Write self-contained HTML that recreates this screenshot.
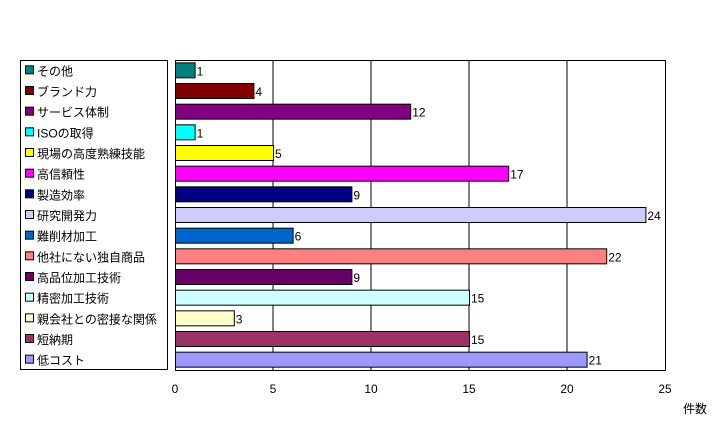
<!DOCTYPE html>
<html><head><meta charset="utf-8"><style>
body{margin:0;background:#fff;width:719px;height:432px;overflow:hidden;font-family:"Liberation Sans","Noto Sans CJK JP",sans-serif}
</style></head><body>
<svg id="chart" width="719" height="432" font-family="Liberation Sans, Noto Sans CJK JP, sans-serif" font-size="12">
<g id="legend"><rect x="20.5" y="60.5" width="147" height="309" fill="#fff" stroke="#000"/></g>
<g id="plot"></g>
<text x="683" y="413">件数</text>
</svg>
<script>
const categories=["その他","ブランド力","サービス体制","ISOの取得","現場の高度熟練技能","高信頼性","製造効率","研究開発力","難削材加工","他社にない独自商品","高品位加工技術","精密加工技術","親会社との密接な関係","短納期","低コスト"];
const values=[1,4,12,1,5,17,9,24,6,22,9,15,3,15,21];
const colors=["#008080","#800000","#800080","#00ffff","#ffff00","#ff00ff","#000080","#ccccff","#0066cc","#ff8080","#660066","#ccffff","#ffffcc","#993366","#9999ff"];
const ticks=[0,5,10,15,20,25];
const NS="http://www.w3.org/2000/svg";
const x0=175,x1=665,yTop=60,yBot=370;
const xs=v=>x0+(x1-x0)*v/25;
const step=(yBot-yTop)/categories.length;
const yc=i=>yTop+step*(i+0.5);
const plot=document.getElementById('plot'),leg=document.getElementById('legend');
function mk(tag,at,par){const e=document.createElementNS(NS,tag);for(const k in at)e.setAttribute(k,at[k]);par.appendChild(e);return e;}
ticks.forEach(t=>{
 if(t>0&&t<25){const l=mk('line',{x1:xs(t),x2:xs(t),y1:yTop,y2:yBot,stroke:'#000'},plot);
 
 }
 const tx=mk('text',{x:xs(t),y:393,'text-anchor':'middle'},plot);tx.textContent=t;
 
 
});
mk('rect',{x:x0+0.5,y:yTop+0.5,width:x1-x0,height:yBot-yTop,fill:'none',stroke:'#000'},plot);
categories.forEach((c,i)=>{
 const y=yc(i);
 const b=mk('rect',{x:x0+0.5,y:y-7.5,width:xs(values[i])-x0,height:15,fill:colors[i],stroke:'#000'},plot);
 
 
 const v=mk('text',{x:xs(values[i])+2,y:y+5},plot);v.textContent=values[i];
 
 
 const s=mk('rect',{x:25.5,y:y-4.5,width:8,height:8,fill:colors[i],stroke:'#000'},leg);
 
 
 const t=mk('text',{x:37,y:y+5},leg);t.textContent=c;
 
 
});
</script>
</body></html>
